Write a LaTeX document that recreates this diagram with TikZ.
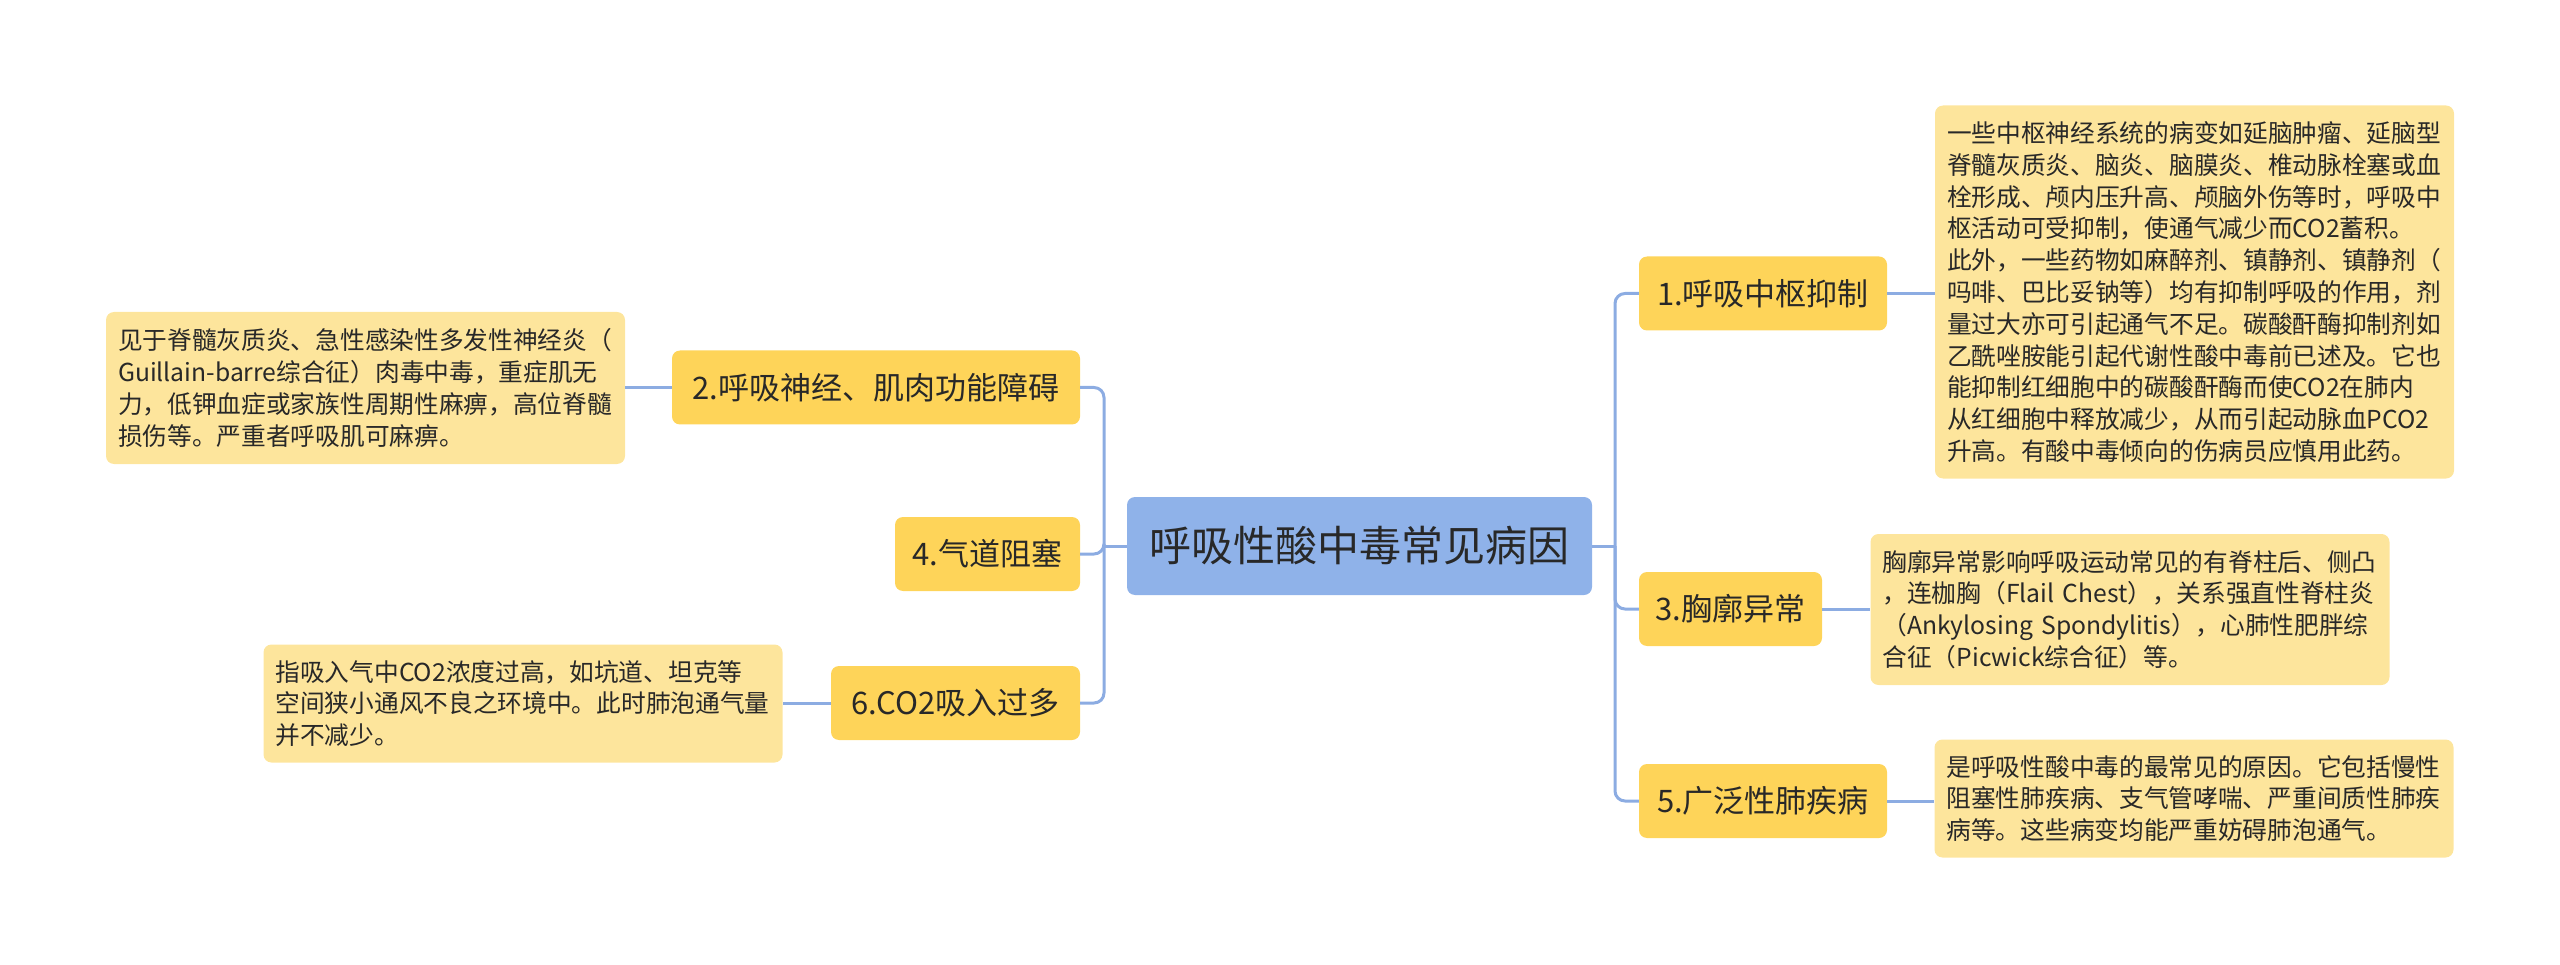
\documentclass[tikz,border=0pt]{standalone}
\usepackage{fontspec}
\setmainfont{Noto Sans CJK SC}
\usepackage{tikz}
\usetikzlibrary{positioning,calc}
\definecolor{sky}{RGB}{143,178,233}
\definecolor{gold}{RGB}{254,212,89}
\definecolor{cream}{RGB}{253,229,156}
\definecolor{wire}{RGB}{140,172,226}
\definecolor{ink}{RGB}{40,40,40}
\tikzset{
  root/.style={fill=sky,rounded corners=8pt,inner sep=0pt,
    minimum width=465pt,minimum height=98pt,text=ink,
    font=\fontsize{42}{50}\selectfont},
  branch/.style={fill=gold,rounded corners=8pt,inner sep=0pt,minimum height=74pt,
    text=ink,font=\fontsize{31}{38}\selectfont},
  note/.style={fill=cream,rounded corners=8pt,inner xsep=12pt,inner ysep=0pt,
    text width=495pt,align=left,text=ink,
    font=\fontsize{24.7}{31.8}\selectfont},
  link/.style={draw=wire,line width=3pt,rounded corners=10pt},
}

\begin{document}
\begin{tikzpicture}[x=1pt,y=-1pt]
  \useasboundingbox (0,0) rectangle (2560,965);
  % centre
  \node[root] (root) at (1359.5,546) {呼吸性酸中毒常见病因};
  \coordinate (rj) at (1615,546);
  \coordinate (lj) at (1104,546);
  % right side
  \node[branch,minimum width=248pt] (b1) at (1763,293.5) {1.呼吸中枢抑制};
  \node[branch,minimum width=183pt] (b3) at (1730.5,609) {3.胸廓异常};
  \node[branch,minimum width=248pt] (b5) at (1763,801) {5.广泛性肺疾病};
  % left side
  \node[branch,minimum width=408pt] (b2) at (876,387.5) {2.呼吸神经、肌肉功能障碍};
  \node[branch,minimum width=185pt] (b4) at (987.5,554) {4.气道阻塞};
  \node[branch,minimum width=249pt] (b6) at (955.5,703) {6.CO2吸入过多};
  % notes
  \node[note,minimum height=373pt] (n1) at (2194.5,292) {一些中枢神经系统的病变如延脑肿瘤、延脑型\\
    脊髓灰质炎、脑炎、脑膜炎、椎动脉栓塞或血\\
    栓形成、颅内压升高、颅脑外伤等时，呼吸中\\
    枢活动可受抑制，使通气减少而CO2蓄积。\\
    此外，一些药物如麻醉剂、镇静剂、镇静剂（\\
    吗啡、巴比妥钠等）均有抑制呼吸的作用，剂\\
    量过大亦可引起通气不足。碳酸酐酶抑制剂如\\
    乙酰唑胺能引起代谢性酸中毒前已述及。它也\\
    能抑制红细胞中的碳酸酐酶而使CO2在肺内\\
    从红细胞中释放减少，从而引起动脉血PCO2\\
    升高。有酸中毒倾向的伤病员应慎用此药。};
  \node[note,minimum height=151pt] (n3) at (2130,609.5) {胸廓异常影响呼吸运动常见的有脊柱后、侧凸\\
    ，连枷胸（Flail Chest），关系强直性脊柱炎\\
    （Ankylosing Spondylitis），心肺性肥胖综\\
    合征（Picwick综合征）等。};
  \node[note,minimum height=118pt] (n5) at (2194,798.5) {是呼吸性酸中毒的最常见的原因。它包括慢性\\
    阻塞性肺疾病、支气管哮喘、严重间质性肺疾\\
    病等。这些病变均能严重妨碍肺泡通气。};
  \node[note,minimum height=152pt] (n2) at (365.5,388) {见于脊髓灰质炎、急性感染性多发性神经炎（\\
    Guillain-barre综合征）肉毒中毒，重症肌无\\
    力，低钾血症或家族性周期性麻痹，高位脊髓\\
    损伤等。严重者呼吸肌可麻痹。};
  \node[note,minimum height=118pt] (n6) at (523,703.5) {指吸入气中CO2浓度过高，如坑道、坦克等\\
    空间狭小通风不良之环境中。此时肺泡通气量\\
    并不减少。};
  % connectors
  \draw[link] (root.east) -- (rj);
  \draw[link] (root.west) -- (lj);
  \foreach \b in {b1,b3,b5} \draw[link] (rj) |- (\b.west);
  \foreach \b in {b2,b4,b6} \draw[link] (lj) |- (\b.east);
  \draw[link] (b1.east) -- (b1.east -| n1.west);
  \draw[link] (b3.east) -- (b3.east -| n3.west);
  \draw[link] (b5.east) -- (b5.east -| n5.west);
  \draw[link] (b2.west) -- (b2.west -| n2.east);
  \draw[link] (b6.west) -- (b6.west -| n6.east);
\end{tikzpicture}
\end{document}
